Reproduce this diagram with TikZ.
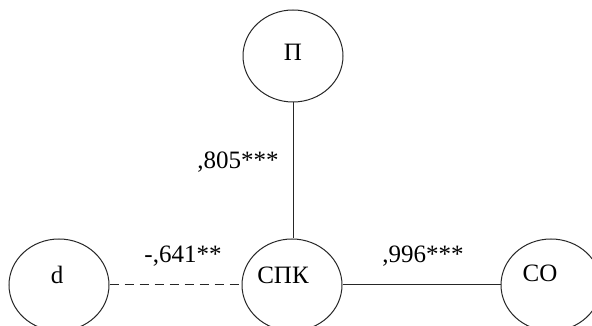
\documentclass[tikz,border=0pt]{standalone}
\usepackage{fontspec}
\setmainfont{Liberation Serif}
\usetikzlibrary{shapes.geometric}
\begin{document}
\begin{tikzpicture}[x=1pt,y=1pt,
  vnode/.style={draw=black!85, line width=1pt, ellipse, minimum width=100pt, minimum height=92pt, inner sep=0pt},
  vtext/.style={font=\fontsize{25}{28}\selectfont, inner sep=0pt},
  conn/.style={draw=black!85, line width=1pt},
  dashconn/.style={conn, dash pattern=on 9pt off 6pt},
  coef/.style={font=\fontsize{25}{28}\selectfont, inner sep=0pt}]
\useasboundingbox (0,0) rectangle (592,326);
\node[vnode] (P) at (293,270) {};
\node[vnode] (SPK) at (292,41) {};
\node[vnode] (D) at (59,41) {};
\node[vnode] (CO) at (551,41) {};
\node[vtext] (Pt) at (293,274) {П};
\node[vtext] (SPKt) at (283,51) {СПК};
\node[vtext] (Dt) at (57,51) {d};
\node[vtext] (COt) at (540,53) {СО};
\draw[conn] (P.south) -- (P.south |- SPK.north);
\draw[dashconn] (D.east) -- (SPK.west);
\draw[conn] (SPK.east) -- (CO.west);
\node[coef] (c1) at (238,164) {,805***};
\node[coef] (c2) at (183,70) {-,641**};
\node[coef] (c3) at (423,70) {,996***};
\end{tikzpicture}
\end{document}
